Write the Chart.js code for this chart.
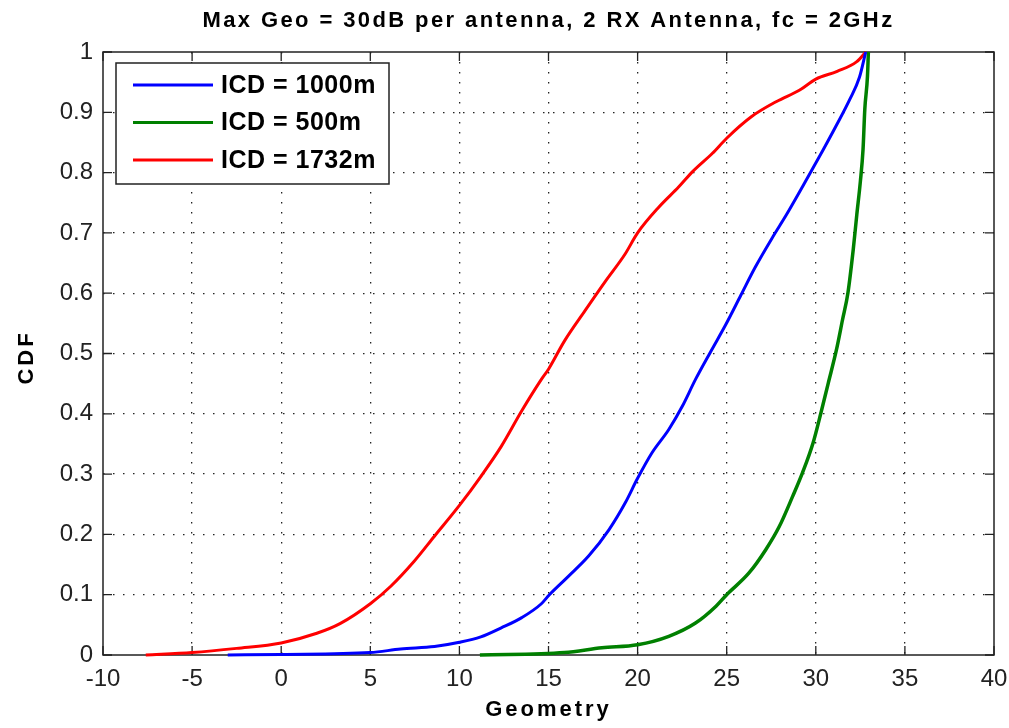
<!DOCTYPE html>
<html>
<head>
<meta charset="utf-8">
<script src="https://cdn.jsdelivr.net/npm/chart.js@4/dist/chart.umd.min.js"></script>
<style>
html,body{margin:0;padding:0;background:#fff;}
#wrap{width:1009px;height:728px;}
</style>
</head>
<body>
<div id="wrap"><canvas id="c" width="1009" height="728"></canvas></div>
<script>
// ---- data ----
const seriesLabels = ['ICD = 1000m', 'ICD = 500m', 'ICD = 1732m'];
const seriesColors = ['#0000ff', '#008000', '#ff0000'];

const blueX = [-3.0, 0, 5, 6.7, 8.6, 10, 11.2, 12.35, 13.5, 14.6, 15.05, 16.1, 17.25, 18.4, 19.3, 20, 20.8, 21.75, 22.5, 23.25, 24.1, 24.95, 25.8, 26.6, 27.6, 28.35, 29.3, 30.4, 31.15, 31.9, 32.45, 32.8];
const blueY = [0, 0.001, 0.004, 0.01, 0.014, 0.021, 0.03, 0.045, 0.062, 0.085, 0.1, 0.13, 0.164, 0.208, 0.252, 0.293, 0.335, 0.374, 0.412, 0.457, 0.503, 0.548, 0.597, 0.643, 0.694, 0.73, 0.779, 0.837, 0.878, 0.921, 0.958, 1.0];

const greenX = [11.15, 15.9, 18.0, 20, 21.75, 23.25, 24.4, 25, 26.25, 27.2, 27.95, 28.7, 29.25, 29.85, 30.3, 30.7, 31.15, 31.5, 31.8, 32.1, 32.3, 32.5, 32.65, 32.75, 32.9, 32.95];
const greenY = [0, 0.004, 0.012, 0.017, 0.031, 0.053, 0.081, 0.1, 0.136, 0.175, 0.213, 0.263, 0.302, 0.352, 0.403, 0.451, 0.505, 0.556, 0.6, 0.672, 0.73, 0.785, 0.838, 0.905, 0.96, 1.0];

const redX = [-7.6, -5, -2.5, 0, 2.0, 3.3, 5, 6.15, 7.45, 8.6, 10, 11.2, 12.35, 13.5, 14.6, 15.0, 15.9, 17.05, 18.2, 19.3, 20, 21.2, 22.3, 23.1, 24.2, 25, 26.4, 27.8, 29.1, 30, 31.2, 32.3, 32.8];
const redY = [0, 0.004, 0.011, 0.02, 0.036, 0.052, 0.085, 0.114, 0.155, 0.197, 0.248, 0.296, 0.346, 0.405, 0.457, 0.474, 0.521, 0.571, 0.62, 0.665, 0.7, 0.743, 0.776, 0.802, 0.832, 0.857, 0.893, 0.918, 0.937, 0.955, 0.968, 0.984, 1.0];

const xTickValues = [-10, -5, 0, 5, 10, 15, 20, 25, 30, 35, 40];
const yTickValues = [0, 0.1, 0.2, 0.3, 0.4, 0.5, 0.6, 0.7, 0.8, 0.9, 1];

const titleText = 'Max Geo = 30dB per antenna, 2 RX Antenna, fc = 2GHz';
const xTitle = 'Geometry';
const yTitle = 'CDF';

function pts(xs, ys){ return xs.map((x,i)=>({x:x, y:ys[i]})); }

const seriesData = [pts(blueX, blueY), pts(greenX, greenY), pts(redX, redY)];

const FONT = "'Liberation Sans', Arial, Helvetica, sans-serif";

// frame + inward ticks
const framePlugin = {
  id: 'frame',
  beforeDatasetsDraw(chart){
    const {ctx, chartArea:a, scales} = chart;
    ctx.save();
    ctx.strokeStyle = '#222';
    ctx.lineWidth = 1.5;
    ctx.strokeRect(a.left, a.top, a.right - a.left, a.bottom - a.top);
    ctx.lineWidth = 1.3;
    const tl = 9;
    ctx.beginPath();
    xTickValues.forEach(v => {
      const px = scales.x.getPixelForValue(v);
      ctx.moveTo(px, a.bottom); ctx.lineTo(px, a.bottom - tl);
      ctx.moveTo(px, a.top); ctx.lineTo(px, a.top + tl);
    });
    yTickValues.forEach(v => {
      const py = scales.y.getPixelForValue(v);
      ctx.moveTo(a.left, py); ctx.lineTo(a.left + tl, py);
      ctx.moveTo(a.right, py); ctx.lineTo(a.right - tl, py);
    });
    ctx.stroke();
    ctx.restore();
  }
};

// titles (with letter spacing like the reference)
const titlesPlugin = {
  id: 'titles',
  afterDraw(chart){
    const {ctx, chartArea:a} = chart;
    const cx = (a.left + a.right) / 2;
    ctx.save();
    ctx.fillStyle = '#000';
    ctx.textAlign = 'center';
    ctx.textBaseline = 'middle';
    ctx.font = "bold 22px " + FONT;
    ctx.letterSpacing = '2.4px';
    ctx.fillText(titleText, cx, 21);
    ctx.letterSpacing = '3px';
    ctx.fillText(xTitle, cx, 710);
    ctx.translate(27, (a.top + a.bottom) / 2 + 4);
    ctx.rotate(-Math.PI / 2);
    ctx.fillText(yTitle, 0, 0);
    ctx.restore();
  }
};

// boxed legend inside the plot area
const boxLegend = {
  id: 'boxLegend',
  afterDatasetsDraw(chart){
    const {ctx, chartArea:a} = chart;
    const bx = a.left + 13, by = a.top + 11, bw = 273, bh = 121;
    ctx.save();
    ctx.fillStyle = '#fff';
    ctx.fillRect(bx, by, bw, bh);
    ctx.strokeStyle = '#222';
    ctx.lineWidth = 1.5;
    ctx.strokeRect(bx, by, bw, bh);
    ctx.font = "bold 25px " + FONT;
    ctx.letterSpacing = '0.5px';
    ctx.textBaseline = 'middle';
    chart.data.datasets.forEach((ds, i) => {
      const yy = by + 22 + i * 37.5;
      ctx.strokeStyle = ds.borderColor;
      ctx.lineWidth = 3;
      ctx.beginPath();
      ctx.moveTo(bx + 17, yy); ctx.lineTo(bx + 97, yy);
      ctx.stroke();
      ctx.fillStyle = '#000';
      ctx.fillText(ds.label, bx + 105, yy + 1);
    });
    ctx.restore();
  }
};

new Chart(document.getElementById('c'), {
  type: 'line',
  data: {
    datasets: seriesData.map((d, i) => ({
      label: seriesLabels[i],
      data: d,
      borderColor: seriesColors[i],
      backgroundColor: seriesColors[i],
      borderWidth: i === 1 ? 3.5 : 3,
      pointRadius: 0,
      cubicInterpolationMode: 'monotone',
      fill: false,
      clip: 5
    }))
  },
  options: {
    responsive: false,
    animation: false,
    devicePixelRatio: 1,
    layout: { padding: { left: 0, right: 15, top: 52, bottom: 0 } },
    plugins: {
      legend: { display: false },
      tooltip: { enabled: false },
      title: { display: false }
    },
    scales: {
      x: {
        type: 'linear',
        min: -10, max: 40,
        afterBuildTicks: s => { s.ticks = xTickValues.map(v => ({value: v})); },
        ticks: { color: '#222', font: { family: FONT, size: 24 }, padding: 10, maxRotation: 0 },
        grid: { display: true, color: ctx => (ctx.tick && (ctx.tick.value === -10 || ctx.tick.value === 40)) ? 'rgba(0,0,0,0)' : '#222', lineWidth: 1.3, drawTicks: false },
        border: { display: false, dash: [1.5, 8.5] },
        title: { display: false },
        afterFit: s => { s.height = 73; s.paddingRight = 0; s.paddingLeft = 0; }
      },
      y: {
        type: 'linear',
        min: 0, max: 1,
        afterBuildTicks: s => { s.ticks = yTickValues.map(v => ({value: v})); },
        ticks: { color: '#222', font: { family: FONT, size: 24 }, padding: 10, callback: v => String(Math.round(v * 10) / 10) },
        grid: { display: true, color: ctx => (ctx.tick && (ctx.tick.value === 0 || ctx.tick.value === 1)) ? 'rgba(0,0,0,0)' : '#222', lineWidth: 1.3, drawTicks: false },
        border: { display: false, dash: [1.5, 8.5] },
        title: { display: false },
        afterFit: s => { s.width = 103; s.paddingTop = 0; s.paddingBottom = 0; }
      }
    }
  },
  plugins: [framePlugin, boxLegend, titlesPlugin]
});
</script>
</body>
</html>
